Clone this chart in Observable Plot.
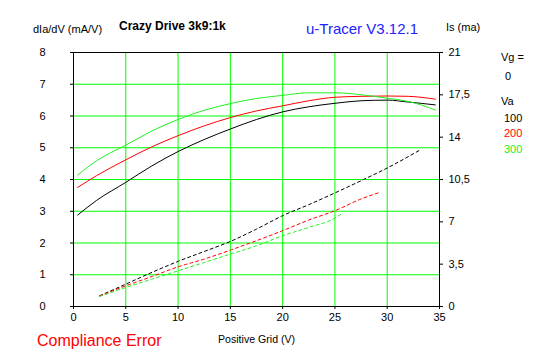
<!DOCTYPE html>
<html><head><meta charset="utf-8">
<script src="https://cdn.jsdelivr.net/npm/d3@7"></script>
<script src="https://cdn.jsdelivr.net/npm/@observablehq/plot@0.6"></script>
<style>
body{margin:0;background:#fff;}
#wrap{position:relative;width:547px;height:357px;font-family:"Liberation Sans",Arial,sans-serif;color:#000;}
.t{position:absolute;white-space:nowrap;font-size:11px;line-height:1;}
</style></head>
<body>
<div id="wrap">
  <div id="chart"></div>
  <div class="t" style="left:33px;top:24px;">dIa/dV (mA/V)</div>
  <div class="t" style="left:119px;top:19.5px;font-size:12px;font-weight:bold;">Crazy Drive 3k9:1k</div>
  <div class="t" style="left:306px;top:21px;font-size:15px;color:#2222ff;">u-Tracer V3.12.1</div>
  <div class="t" style="left:446px;top:21.5px;">Is (ma)</div>
  <div class="t" style="left:501px;top:52px;">Vg =</div>
  <div class="t" style="left:505px;top:70.5px;">0</div>
  <div class="t" style="left:501px;top:95.5px;">Va</div>
  <div id="legend"></div>
  <div class="t" style="left:218px;top:333.5px;font-size:10.6px;">Positive Grid (V)</div>
  <div class="t" style="left:37px;top:333px;font-size:16px;color:#ff0000;">Compliance Error</div>
</div>
<script>
// Series (Va values)
const vaSeries = [100, 200, 300];
const seriesColors = ["#000000", "#ff0000", "#22f022"];
const gridColor = "#00ff00";

// dIa/dV (mA/V) vs positive grid voltage, per Va
const dVg = [0.4, 2.2, 5, 7.5, 10, 12.5, 15, 17.5, 20, 22.5, 25, 27.5, 30, 32, 34.6];
const dIa100 = [2.88, 3.34, 3.91, 4.43, 4.88, 5.26, 5.59, 5.89, 6.13, 6.29, 6.40, 6.48, 6.50, 6.44, 6.35];
const dIa200 = [3.75, 4.12, 4.62, 5.03, 5.38, 5.69, 5.95, 6.16, 6.32, 6.48, 6.59, 6.62, 6.63, 6.62, 6.53];
const dIa300 = [4.14, 4.59, 5.08, 5.53, 5.89, 6.18, 6.39, 6.55, 6.65, 6.73, 6.73, 6.67, 6.56, 6.46, 6.19];

// Screen current Is (mA) vs positive grid voltage, per Va
const isVg100 = [2.5, 5, 7.5, 10, 12.5, 15, 17.5, 20, 22.5, 25, 27.5, 30, 33.2];
const is100 = [0.88, 1.85, 2.82, 3.73, 4.55, 5.38, 6.40, 7.51, 8.42, 9.39, 10.4, 11.45, 12.97];
const isVg200 = [2.5, 5, 7.5, 10, 12.5, 15, 17.5, 20, 22.5, 25, 27.5, 29.2];
const is200 = [0.88, 1.71, 2.48, 3.28, 3.92, 4.66, 5.44, 6.27, 7.15, 7.92, 8.89, 9.41];
const isVg300 = [2.5, 5, 7.5, 10, 12.5, 15, 17.5, 20, 22.5, 25, 25.6];
const is300 = [0.83, 1.57, 2.26, 2.95, 3.64, 4.33, 5.02, 5.85, 6.54, 7.31, 7.65];

// Axes
const xTicks = [0, 5, 10, 15, 20, 25, 30, 35];
const yTicks = [0, 1, 2, 3, 4, 5, 6, 7, 8];
const isTicks = [0, 3.5, 7, 10.5, 14, 17.5, 21];
const yMax = 8, isMax = 21;

const solid = [];
[dIa100, dIa200, dIa300].forEach((arr, k) => arr.forEach((v, i) => solid.push({vg: dVg[i], y: v, va: vaSeries[k]})));
const dashed = [];
[[isVg100, is100], [isVg200, is200], [isVg300, is300]].forEach(([xs, ys], k) =>
  ys.forEach((v, i) => dashed.push({vg: xs[i], is: v, va: vaSeries[k]})));

const toLeft = v => v * yMax / isMax;
const commaFmt = v => String(+v.toFixed(1)).replace(".", ",");

const chart = Plot.plot({
  width: 547, height: 357,
  marginLeft: 73, marginRight: 108, marginTop: 52, marginBottom: 51,
  style: {fontFamily: "Liberation Sans, Arial, sans-serif", fontSize: "11px", color: "#000", background: "#fff", overflow: "visible"},
  x: {domain: [0, 35]},
  y: {domain: [0, yMax]},
  color: {domain: vaSeries, range: seriesColors},
  marks: [
    Plot.ruleX(xTicks.slice(1, -1), {stroke: gridColor, strokeWidth: 1}),
    Plot.ruleY(yTicks.slice(1, -1), {stroke: gridColor, strokeWidth: 1}),
    Plot.line(solid, {x: "vg", y: "y", z: "va", stroke: "va", strokeWidth: 1, curve: "monotone-x"}),
    Plot.line(dashed, {x: "vg", y: d => toLeft(d.is), z: "va", stroke: "va", strokeWidth: 1, strokeDasharray: "3,3", curve: "monotone-x"}),
    Plot.frame({stroke: "#000", strokeWidth: 1}),
    Plot.axisX(xTicks, {tickSize: 3, tickPadding: 4, label: null}),
    Plot.axisY(yTicks, {anchor: "left", tickSize: 3, tickPadding: 25, label: null}),
    Plot.axisY(isTicks.map(toLeft), {anchor: "right", tickSize: 3, tickPadding: 6, label: null, tickFormat: d => commaFmt(d * isMax / yMax)})
  ]
});
document.getElementById("chart").appendChild(chart);

// legend of Va values
const legend = document.getElementById("legend");
const legendTops = [112.5, 128, 143.5];
vaSeries.forEach((va, k) => {
  const d = document.createElement("div");
  d.className = "t";
  d.style.left = "504px";
  d.style.top = legendTops[k] + "px";
  d.style.color = k === 0 ? "#000" : seriesColors[k];
  d.textContent = va;
  legend.appendChild(d);
});
</script>
</body></html>
